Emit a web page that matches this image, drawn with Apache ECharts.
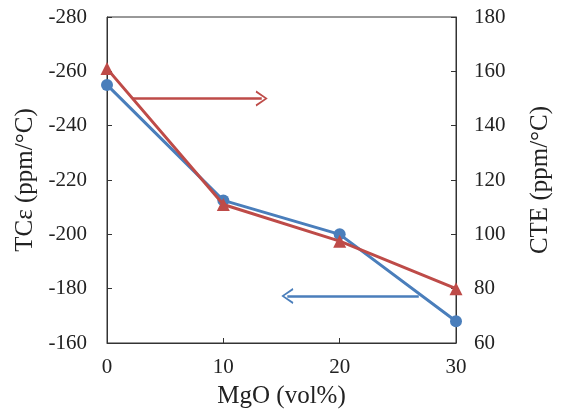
<!DOCTYPE html>
<html>
<head>
<meta charset="utf-8">
<script src="https://cdn.jsdelivr.net/npm/echarts@6/dist/echarts.min.js"></script>
<style>
  html, body { margin: 0; padding: 0; background: #fff; }
  #chart { width: 561px; height: 414px; }
</style>
</head>
<body>
<div id="chart"></div>
<script>
// MgO content (vol%)
const mgo = [0, 10, 20, 30];
// TCe on the left axis (blue circles)
const tce = [-255, -212.5, -200, -168];
// CTE on the right axis (red triangles)
const cte = [161, 111, 97.5, 80];
// arrows pointing to the axis each series belongs to
const redArrow = [[2.2, 150], [13.3, 150]];
const blueArrow = [[26.8, -177.3], [15.5, -177.3]];

const blue = '#4a7ebb';
const red = '#be4b48';
const serif = '"Liberation Serif", "DejaVu Serif", serif';

// open chevron head, points up before rotation
const chevron = 'path://M0,20 L10,0 L20,20 L17.5,21 L10,5 L2.5,21 Z';

const chart = echarts.init(document.getElementById('chart'));

const labelStyle = { fontFamily: serif, fontSize: 21, color: '#222' };
const nameStyle = { fontFamily: serif, fontSize: 25, color: '#222' };

chart.setOption({
    animation: false,
    grid: {
        left: 107, right: 104, top: 17, bottom: 71,
        show: true, borderColor: '#333', borderWidth: 1
    },
    xAxis: {
        type: 'value',
        min: 0, max: 30, interval: 10,
        name: 'MgO (vol%)',
        nameLocation: 'middle',
        nameGap: 41,
        nameTextStyle: nameStyle,
        axisLine: { lineStyle: { color: '#333' } },
        axisTick: { inside: true, length: 5, lineStyle: { color: '#333' } },
        axisLabel: Object.assign({ margin: 14 }, labelStyle),
        splitLine: { show: false }
    },
    yAxis: [
        {
            type: 'value',
            inverse: true,
            min: -280, max: -160, interval: 20,
            name: 'TCε (ppm/°C)',
            nameLocation: 'middle',
            nameGap: 68,
            nameRotate: 90,
            nameTextStyle: nameStyle,
            axisLine: { show: true, lineStyle: { color: '#333' } },
            axisTick: { show: true, inside: true, length: 5, lineStyle: { color: '#333' } },
            axisLabel: Object.assign({ margin: 20 }, labelStyle),
            splitLine: { show: false }
        },
        {
            type: 'value',
            min: 60, max: 180, interval: 20,
            name: 'CTE (ppm/°C)',
            nameLocation: 'middle',
            nameGap: 72,
            nameRotate: 90,
            nameTextStyle: nameStyle,
            axisLine: { show: true, lineStyle: { color: '#333' } },
            axisTick: { show: true, inside: true, length: 5, lineStyle: { color: '#333' } },
            axisLabel: Object.assign({ margin: 18 }, labelStyle),
            splitLine: { show: false }
        }
    ],
    series: [
        {
            name: 'TCε',
            type: 'line',
            yAxisIndex: 0,
            data: mgo.map((x, i) => [x, tce[i]]),
            symbol: 'circle',
            symbolSize: 12,
            lineStyle: { color: blue, width: 3 },
            itemStyle: { color: blue },
            z: 3
        },
        {
            name: 'CTE',
            type: 'line',
            yAxisIndex: 1,
            data: mgo.map((x, i) => [x, cte[i]]),
            symbol: 'triangle',
            symbolSize: 13,
            lineStyle: { color: red, width: 3 },
            itemStyle: { color: red },
            z: 4
        },
        {
            type: 'line',
            yAxisIndex: 1,
            data: redArrow,
            symbol: 'none',
            lineStyle: { width: 0 },
            silent: true,
            markLine: {
                silent: true,
                symbol: ['none', chevron],
                symbolSize: [16, 12],
                label: { show: false },
                lineStyle: { color: red, width: 2.5, type: 'solid' },
                data: [[{ coord: redArrow[0] }, { coord: redArrow[1] }]]
            }
        },
        {
            type: 'line',
            yAxisIndex: 0,
            data: blueArrow,
            symbol: 'none',
            lineStyle: { width: 0 },
            silent: true,
            markLine: {
                silent: true,
                symbol: ['none', chevron],
                symbolSize: [16, 12],
                label: { show: false },
                lineStyle: { color: blue, width: 2.5, type: 'solid' },
                data: [[{ coord: blueArrow[0] }, { coord: blueArrow[1] }]]
            }
        }
    ]
});
</script>
</body>
</html>
